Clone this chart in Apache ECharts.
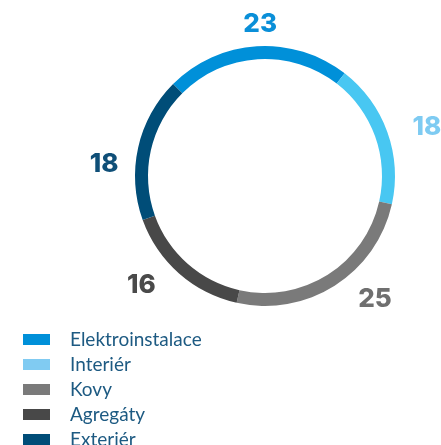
<!DOCTYPE html>
<html>
<head>
<meta charset="utf-8">
<script src="https://cdn.jsdelivr.net/npm/echarts@6/dist/echarts.min.js"></script>
<style>html,body{margin:0;padding:0;background:#fff}#c{width:441px;height:445px}</style>
</head>
<body>
<div id="c"></div>
<script>
const categories = ['Elektroinstalace', 'Interiér', 'Kovy', 'Agregáty', 'Exteriér'];
const values = [23, 18, 25, 16, 18];
const ringColors = ['#0090d9', '#48c7f2', '#7a7a7a', '#484848', '#004d78'];
const labelColors = ['#0a8fd8', '#7ecbf2', '#6f6f6f', '#4a4a4a', '#0f4f78'];
const legendColors = ['#0090d9', '#80cbf2', '#7a7a7a', '#484848', '#004d78'];
// small label nudges (layout only)
const labelNudge = [[36, -8], [-3, 0], [1, 2], [1, 1], [9, 20]];

const chart = echarts.init(document.getElementById('c'), null, {renderer: 'canvas'});
chart.setOption({
  animation: false,
  legend: {
    orient: 'vertical',
    left: 23,
    top: 330,
    height: 200,
    padding: 0,
    itemWidth: 27,
    itemHeight: 11,
    itemGap: 6,
    icon: 'rect',
    selectedMode: false,
    textStyle: {fontFamily: 'Lato', fontSize: 19, lineHeight: 18, color: '#1d5a82', padding: [0, 0, 0, 15]},
    data: categories.map((n, i) => ({name: n, itemStyle: {color: legendColors[i]}}))
  },
  series: [{
    type: 'pie',
    center: [265, 176],
    radius: [117, 130],
    startAngle: 135,
    clockwise: true,
    avoidLabelOverlap: false,
    label: {
      show: true,
      position: 'outside',
      formatter: '{c}',
      fontFamily: 'Inter',
      fontWeight: 800,
      fontSize: 26
    },
    labelLine: {show: false, length: 14, length2: 10},
    labelLayout: function (p) {
      const n = labelNudge[p.dataIndex];
      return {dx: n[0], dy: n[1]};
    },
    emphasis: {disabled: true},
    data: categories.map((n, i) => ({
      name: n,
      value: values[i],
      itemStyle: {color: ringColors[i]},
      label: {color: labelColors[i]}
    }))
  }]
});
</script>
</body>
</html>
